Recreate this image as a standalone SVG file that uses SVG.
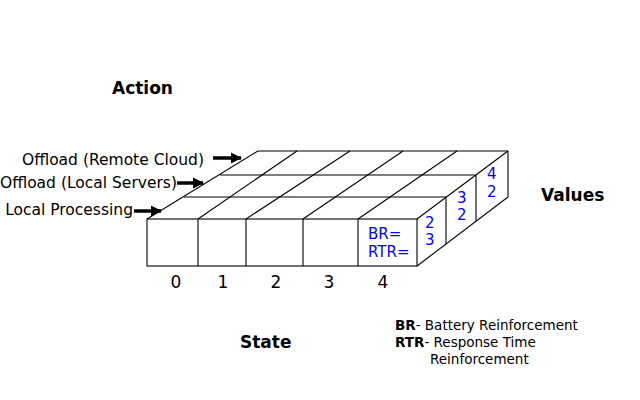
<svg xmlns="http://www.w3.org/2000/svg" width="640" height="400" viewBox="0 0 640 400">
<style>
text{font-family:"DejaVu Sans","Liberation Sans",sans-serif;fill:#000}
.t{font-weight:bold;font-size:17px}
.lab{font-size:15.5px}
.num{font-size:17px}
.val{font-size:15px;fill:#0000ff}
.leg{font-size:13.5px}
.g line,.g rect,.g path{stroke:#000;stroke-width:1.1;fill:none}
.ar{stroke:#000;stroke-width:3.5;fill:none}
</style>
<defs>
<marker id="ah" markerUnits="userSpaceOnUse" markerWidth="12" markerHeight="12" refX="10" refY="6" orient="auto">
<path d="M0,0.5 L11,6 L0,11.5 Z" fill="#000"/>
</marker>
</defs>
<rect width="640" height="400" fill="#fff"/>
<g id="titles">
<text class="t" x="112" y="94">Action</text>
<text class="t" x="240" y="348">State</text>
<text class="t" x="541" y="201">Values</text>
</g>
<g id="action-labels">
<text id="a-remote" class="lab" x="204" y="165" text-anchor="end">Offload (Remote Cloud)</text>
<text id="a-local-servers" class="lab" x="177" y="188" text-anchor="end">Offload (Local Servers)</text>
<text id="a-local" class="lab" x="133" y="215" text-anchor="end">Local Processing</text>
</g>
<g id="grid" class="g">
<rect x="147" y="219" width="270" height="47"/>
<line x1="198" y1="219" x2="198" y2="266"/>
<line x1="246" y1="219" x2="246" y2="266"/>
<line x1="303" y1="219" x2="303" y2="266"/>
<line x1="358" y1="219" x2="358" y2="266"/>
<line x1="258" y1="151" x2="508" y2="151"/>
<line x1="220" y1="175" x2="476" y2="175"/>
<line x1="184" y1="197" x2="446" y2="197"/>
<line x1="147" y1="219" x2="258" y2="151"/>
<line x1="198" y1="219" x2="297" y2="151"/>
<line x1="246" y1="219" x2="350" y2="151"/>
<line x1="303" y1="219" x2="403" y2="151"/>
<line x1="358" y1="219" x2="457" y2="151"/>
<line x1="417" y1="219" x2="508" y2="151"/>
<line x1="417" y1="266" x2="508" y2="197"/>
<line x1="446" y1="197" x2="446" y2="244"/>
<line x1="476" y1="175" x2="476" y2="221"/>
<line x1="508" y1="151" x2="508" y2="197"/>
</g>
<g id="state-labels">
<text class="num" x="176" y="288" text-anchor="middle">0</text>
<text class="num" x="223" y="288" text-anchor="middle">1</text>
<text class="num" x="276" y="288" text-anchor="middle">2</text>
<text class="num" x="329" y="288" text-anchor="middle">3</text>
<text class="num" x="383" y="288" text-anchor="middle">4</text>
</g>
<g id="values">
<text class="val" x="368" y="239">BR=</text>
<text class="val" x="368" y="257">RTR=</text>
<text class="val" x="425" y="228">2</text>
<text class="val" x="425" y="245">3</text>
<text class="val" x="457" y="203">3</text>
<text class="val" x="457" y="220">2</text>
<text class="val" x="487" y="179">4</text>
<text class="val" x="487" y="197">2</text>
</g>
<g id="connectors">
<line class="ar" x1="213" y1="158" x2="241" y2="158" marker-end="url(#ah)"/>
<line class="ar" x1="177" y1="183" x2="203" y2="183" marker-end="url(#ah)"/>
<line class="ar" x1="134" y1="211" x2="161" y2="211" marker-end="url(#ah)"/>
</g>
<g id="legend" class="leg">
<text class="leg" x="395" y="330"><tspan font-weight="bold">BR</tspan>- Battery Reinforcement</text>
<text class="leg" x="395" y="347"><tspan font-weight="bold">RTR</tspan>- Response Time</text>
<text class="leg" x="430" y="364">Reinforcement</text>
</g>
</svg>
